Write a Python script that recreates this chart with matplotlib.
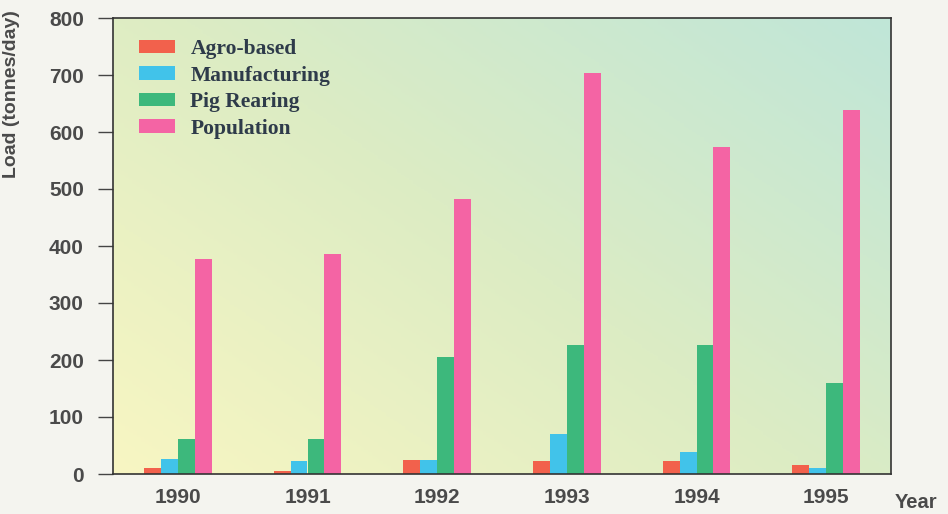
import numpy as np
import matplotlib.pyplot as plt
from matplotlib.colors import LinearSegmentedColormap

# Loads by source, tonnes/day
years = ["1990", "1991", "1992", "1993", "1994", "1995"]
agro_based = [11, 6, 24, 22, 23, 15]
manufacturing = [26, 23, 24, 71, 38, 11]
pig_rearing = [61, 61, 206, 226, 226, 159]
population = [378, 386, 482, 704, 574, 638]

series = [
    ("Agro-based", agro_based, "#f2614c"),
    ("Manufacturing", manufacturing, "#41c3ea"),
    ("Pig Rearing", pig_rearing, "#3db87c"),
    ("Population", population, "#f464a4"),
]

fig = plt.figure(figsize=(9.48, 5.14), dpi=100, facecolor="#f4f4ef")
ax = fig.add_axes([113 / 948, 40 / 514, 778 / 948, 456 / 514])

# gradient background: pale yellow bottom-left -> pale teal top-right
cmap = LinearSegmentedColormap.from_list("bg", ["#f8f6c2", "#dcecc4", "#c0e6d8"])
gx, gy = np.meshgrid(np.linspace(0, 1, 200), np.linspace(0, 1, 200))
grad = 0.55 * gx + 0.45 * gy
ax.imshow(grad, cmap=cmap, extent=[-0.5, 5.5, 0, 800], origin="lower",
          aspect="auto", zorder=0)

x = np.arange(len(years))
w = 0.13
for i, (name, vals, col) in enumerate(series):
    ax.bar(x + (i - 1.5) * w, vals, w, color=col, label=name, zorder=2)

ax.set_xlim(-0.5, 5.5)
ax.set_ylim(0, 800)
ax.set_yticks(range(0, 801, 100))
ax.set_xticks(x)
ax.set_xticklabels(years)
ax.tick_params(axis="y", direction="out", length=11, width=1, color="#444444", pad=10)
ax.tick_params(axis="x", length=0, pad=10)
for lab in ax.get_xticklabels() + ax.get_yticklabels():
    lab.set_fontfamily("Liberation Sans")
    lab.set_fontweight("bold")
    lab.set_fontsize(15)
    lab.set_color("#4a4a4a")
for s in ax.spines.values():
    s.set_color("#333333")
    s.set_linewidth(1.2)

ax.set_ylabel("Load (tonnes/day)", fontfamily="Liberation Sans", fontweight="bold",
              fontsize=14, color="#4a4a4a")
ax.yaxis.set_label_coords(-0.12, 0.833)
fig.text(916 / 948, 1 - 503 / 514, "Year", fontfamily="Liberation Sans",
         fontweight="bold", fontsize=14.5, color="#4a4a4a", ha="center", va="center")

leg = ax.legend(loc="upper left", bbox_to_anchor=(0.009, 0.996), frameon=False,
                prop={"family": "Liberation Serif", "weight": "bold", "size": 15.5},
                handlelength=1.67, handleheight=0.56, labelspacing=0.3, handletextpad=0.7)
for t in leg.get_texts():
    t.set_color("#2e3b4a")

plt.savefig("out.png", dpi=100, facecolor=fig.get_facecolor())
